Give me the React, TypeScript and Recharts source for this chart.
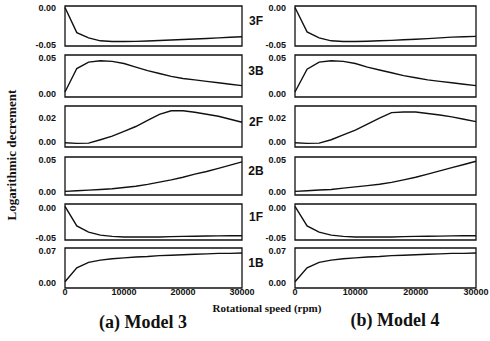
import React from 'react';
import { LineChart, Line, XAxis, YAxis, ReferenceArea } from 'recharts';

// rotational speed (rpm)
const speeds = [0, 2000, 4000, 6000, 8000, 10000, 12000, 14000, 16000, 18000, 20000, 22000, 24000, 26000, 28000, 30000];
const xTicks = [0, 10000, 20000, 30000];

// Model 3 – logarithmic decrement per mode
const m3_3F = [0, -0.034, -0.041, -0.045, -0.046, -0.046, -0.0458, -0.0452, -0.0446, -0.044, -0.0432, -0.0425, -0.0418, -0.041, -0.0402, -0.0395];
const m3_3B = [0.002, 0.035, 0.044, 0.046, 0.045, 0.042, 0.037, 0.032, 0.028, 0.024, 0.021, 0.019, 0.017, 0.015, 0.013, 0.011];
const m3_2F = [-0.0005, -0.001, -0.0008, 0.002, 0.005, 0.009, 0.013, 0.018, 0.023, 0.026, 0.026, 0.0248, 0.0232, 0.0215, 0.019, 0.0165];
const m3_2B = [0.001, 0.002, 0.003, 0.004, 0.005, 0.007, 0.009, 0.012, 0.0155, 0.019, 0.023, 0.028, 0.032, 0.037, 0.042, 0.047];
const m3_1F = [0.002, -0.03, -0.04, -0.045, -0.047, -0.048, -0.048, -0.048, -0.048, -0.0475, -0.047, -0.0468, -0.0465, -0.0463, -0.046, -0.046];
const m3_1B = [0.002, 0.033, 0.045, 0.05, 0.053, 0.055, 0.057, 0.058, 0.06, 0.061, 0.062, 0.063, 0.064, 0.065, 0.065, 0.066];

// Model 4 – logarithmic decrement per mode
const m4_3F = [0, -0.033, -0.041, -0.045, -0.046, -0.046, -0.0455, -0.045, -0.0444, -0.0436, -0.0428, -0.042, -0.041, -0.040, -0.0395, -0.039];
const m4_3B = [0.002, 0.034, 0.044, 0.046, 0.045, 0.042, 0.037, 0.033, 0.029, 0.025, 0.022, 0.019, 0.017, 0.015, 0.013, 0.011];
const m4_2F = [-0.0005, -0.001, -0.0008, 0.002, 0.006, 0.010, 0.015, 0.020, 0.0245, 0.025, 0.025, 0.0238, 0.0225, 0.021, 0.019, 0.017];
const m4_2B = [0.001, 0.002, 0.003, 0.004, 0.006, 0.008, 0.010, 0.012, 0.015, 0.019, 0.023, 0.028, 0.033, 0.038, 0.043, 0.048];
const m4_1F = [0.002, -0.03, -0.04, -0.045, -0.047, -0.048, -0.048, -0.048, -0.048, -0.0475, -0.047, -0.0468, -0.0466, -0.0463, -0.046, -0.046];
const m4_1B = [0.002, 0.033, 0.045, 0.05, 0.053, 0.055, 0.057, 0.058, 0.06, 0.061, 0.062, 0.063, 0.064, 0.065, 0.065, 0.066];

const modeLabels = ['3F', '3B', '2F', '2B', '1F', '1B'];

// y domains / ticks per mode row
const yDomains: [number, number][] = [
  [-0.052, 0.002],
  [-0.005, 0.054],
  [-0.004, 0.03],
  [-0.0047, 0.0547],
  [-0.053, 0.006],
  [-0.012, 0.077],
];
const yTicks = [
  [-0.05, 0],
  [0, 0.05],
  [0, 0.02],
  [0, 0.05],
  [-0.05, 0],
  [0, 0.07],
];

// box top / bottom of each row (px)
const rowBoxes = [
  [6, 46],
  [55, 97],
  [106, 147],
  [157, 195],
  [204, 240],
  [248, 288],
];

const model3 = [m3_3F, m3_3B, m3_2F, m3_2B, m3_1F, m3_1B];
const model4 = [m4_3F, m4_3B, m4_2F, m4_2B, m4_1F, m4_1B];

const sans = '"Liberation Sans", Arial, sans-serif';
const serif = '"Liberation Serif", "Times New Roman", serif';

const Y_W = 60;
const PAD = 6;
const R_PAD = 16;

function Panel({ values, row, boxLeft, boxRight }: { values: number[]; row: number; boxLeft: number; boxRight: number }) {
  const [top, bottom] = rowBoxes[row];
  const isBottom = row === 5;
  const xH = isBottom ? 16 : 0;
  const data = speeds.map((s, i) => ({ speed: s, v: values[i] }));
  const dom = yDomains[row];
  const w = Y_W + (boxRight - boxLeft) + R_PAD;
  const h = bottom - top + PAD * 2 + xH;
  return (
    <div style={{ position: 'absolute', left: boxLeft - Y_W, top: top - PAD }}>
      <LineChart width={w} height={h} data={data} margin={{ top: PAD, right: R_PAD, bottom: PAD, left: 0 }}>
        <XAxis
          type="number"
          dataKey="speed"
          domain={[0, 30000]}
          ticks={xTicks}
          interval={0}
          hide={!isBottom}
          height={xH || 1}
          axisLine={false}
          tickLine={false}
          tickMargin={-5}
          tick={{ fontSize: 9, fontWeight: 700, fill: '#111', fontFamily: sans }}
        />
        <YAxis
          type="number"
          domain={dom}
          ticks={yTicks[row]}
          interval={0}
          allowDataOverflow
          width={Y_W}
          axisLine={false}
          tickLine={false}
          tickMargin={3}
          tickFormatter={(v: number) => v.toFixed(2)}
          tick={{ fontSize: 9, fontWeight: 700, fill: '#111', fontFamily: sans }}
        />
        <ReferenceArea x1={0} x2={30000} y1={dom[0]} y2={dom[1]} fill="none" stroke="#111" strokeWidth={1.3} />
        <Line type="linear" dataKey="v" stroke="#111" strokeWidth={1.4} dot={false} isAnimationActive={false} />
      </LineChart>
    </div>
  );
}

export default function App() {
  return (
    <div style={{ position: 'absolute', left: 0, top: 0, width: 490, height: 341, background: '#fff', overflow: 'hidden' }}>
      {model3.map((vals, i) => (
        <Panel key={'a' + i} values={vals} row={i} boxLeft={65} boxRight={242} />
      ))}
      {model4.map((vals, i) => (
        <Panel key={'b' + i} values={vals} row={i} boxLeft={295} boxRight={476} />
      ))}
      {modeLabels.map((lab, i) => (
        <div
          key={lab}
          style={{
            position: 'absolute',
            left: 240,
            width: 32,
            top: (rowBoxes[i][0] + rowBoxes[i][1]) / 2 - 12,
            textAlign: 'center',
            fontFamily: sans,
            fontWeight: 700,
            fontSize: 12,
            lineHeight: '14px',
            color: '#111',
          }}
        >
          {lab}
        </div>
      ))}
      <div
        style={{
          position: 'absolute',
          left: 12 - 80,
          top: 155 - 8,
          width: 160,
          textAlign: 'center',
          transform: 'rotate(-90deg)',
          fontFamily: serif,
          fontWeight: 700,
          fontSize: 13,
          lineHeight: '16px',
          color: '#111',
        }}
      >
        Logarithmic decrement
      </div>
      <div style={{ position: 'absolute', left: 187, top: 301, width: 160, textAlign: 'center', fontFamily: serif, fontWeight: 700, fontSize: 11, lineHeight: '14px', color: '#111' }}>
        Rotational speed (rpm)
      </div>
      <div style={{ position: 'absolute', left: 63, top: 311, width: 160, textAlign: 'center', fontFamily: serif, fontWeight: 700, fontSize: 18, lineHeight: '22px', color: '#111' }}>
        (a) Model 3
      </div>
      <div style={{ position: 'absolute', left: 315, top: 309, width: 160, textAlign: 'center', fontFamily: serif, fontWeight: 700, fontSize: 18, lineHeight: '22px', color: '#111' }}>
        (b) Model 4
      </div>
    </div>
  );
}
